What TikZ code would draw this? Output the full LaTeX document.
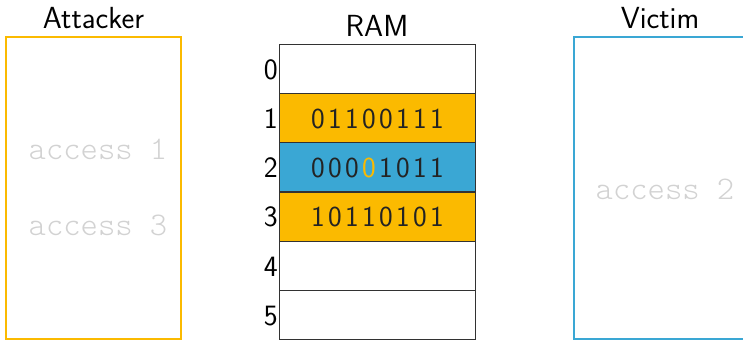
\documentclass[tikz,border=0pt]{standalone}
\usetikzlibrary{positioning}
\definecolor{ramyellow}{RGB}{251,186,0}
\definecolor{ramblue}{RGB}{58,167,212}
\definecolor{accgray}{RGB}{210,210,210}
\definecolor{cellline}{RGB}{50,50,50}
\definecolor{bittext}{RGB}{35,35,35}
% evenly spaced digits
\newcommand\spreadbits[1]{\spreadbitsaux#1\relax}
\def\spreadbitsaux#1{\ifx#1\relax\else\makebox[17pt]{#1}\expandafter\spreadbitsaux\fi}
\begin{document}
\begin{tikzpicture}[x=1pt,y=-1pt,
  title/.style={font=\sffamily\fontsize{30.5}{32}\selectfont, anchor=base, inner sep=0pt},
  addr/.style={font=\sffamily\fontsize{29.5}{31}\selectfont, anchor=base, inner sep=0pt},
  bits/.style={font=\sffamily\fontsize{29}{31}\selectfont, anchor=base, inner sep=0pt, text=bittext},
  acc/.style={font=\ttfamily\fontseries{l}\selectfont\fontsize{33}{35}\selectfont, anchor=base, inner sep=0pt, text=accgray},
  cell/.style={draw=cellline, line width=1.2pt, minimum width=196.4pt, minimum height=49.2pt, inner sep=0pt},
  party/.style={line width=2pt, minimum width=175pt, minimum height=302pt, inner sep=0pt}
]
\useasboundingbox (0,0) rectangle (743,340);
\clip (0,0) rectangle (743,340);

% processes
\node[party, draw=ramyellow] (att) at (93.5,188.3) {};
\node[party, draw=ramblue] (vic) at (661.2,188.3) {};
\node[title] (atttitle) at (93.5,28.3) {Attacker};
\node[title] (victitle) at (660,28.3) {Victim};
\node[acc] (acc1) at (98,159) {access 1};
\node[acc] (acc3) at (98,235) {access 3};
\node[acc] (acc2) at (665,199) {access 2};

% memory cells
\node[cell] (r0) at (377.5,68.9) {};
\node[cell, fill=ramyellow] (r1) at (377.5,118.1) {};
\node[cell, fill=ramblue] (r2) at (377.5,167.3) {};
\node[cell, fill=ramyellow] (r3) at (377.5,216.5) {};
\node[cell] (r4) at (377.5,265.7) {};
\node[cell] (r5) at (377.5,314.9) {};
\node[title] (ramtitle) at (377,36.7) {RAM};

% contents
\node[bits] (b1) at (377.5,128) {\spreadbits{01100111}};
\node[bits] (b2) at (377.5,177.2) {\spreadbits{000}\makebox[17pt]{\color{ramyellow}0}\spreadbits{1011}};
\node[bits] (b3) at (377.5,226.4) {\spreadbits{10110101}};

% addresses
\foreach \i/\y in {0/79.8,1/128.5,2/177.7,3/226.9,4/276.1,5/325.3}
  \node[addr] (a\i) at (270.7,\y) {\i};
\end{tikzpicture}
\end{document}
